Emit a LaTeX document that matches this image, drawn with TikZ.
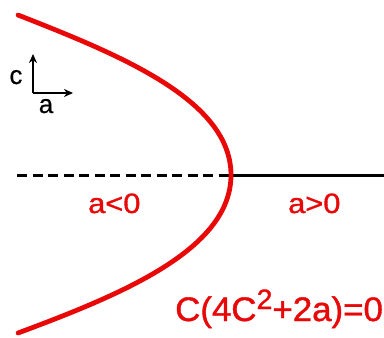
\documentclass[tikz,border=0pt]{standalone}
\usepackage{fontspec}
\setmainfont{Liberation Sans}
\newfontfamily\heavysans[FakeBold=1.2]{Liberation Sans}
\newfontfamily\midsans[FakeBold=0.6]{Liberation Sans}
\usetikzlibrary{arrows.meta}
\definecolor{curvered}{RGB}{232,8,8}
\begin{document}
\begin{tikzpicture}[x=1pt,y=-1pt,
  redlabel/.style={text=curvered,inner sep=0pt,anchor=base west,font=\heavysans\fontsize{28}{28}\selectfont},
  axislabel/.style={inner sep=0pt,font=\midsans\fontsize{26}{26}\selectfont},
  axisline/.style={line width=3pt},
  axisarrow/.style={line width=2.4pt,-{Stealth[length=9pt,width=8pt]}},
  curve/.style={curvered,line width=4.8pt,line cap=round}]
\useasboundingbox (0,0) rectangle (384,338);
% horizontal line
\coordinate (L) at (17,175);
\coordinate (V) at (231,175);
\coordinate (R) at (384,175);
\draw[axisline,dash pattern=on 10pt off 5.5pt] (L) -- (V);
\draw[axisline] (V) -- (R);
% curve
\coordinate (Top) at (18,15);
\coordinate (Bot) at (18,333);
\draw[curve] (Top) .. controls (120,55) and (231,100) .. (V)
                   .. controls (231,250) and (120,295) .. (Bot);
% small axes
\coordinate (O) at (33,93);
\coordinate (Ctip) at (33,54);
\coordinate (Atip) at (73,93);
\draw[axisarrow] (O) -- (Ctip);
\draw[axisarrow] (O) -- (Atip);
\node[axislabel,anchor=base] (cl) at (16,84) {c};
\node[axislabel,anchor=base] (al) at (46,113) {a};
% labels
\node[redlabel] (neg) at (88,213) {\scalebox{1.1}[1]{a<0}};
\node[redlabel] (pos) at (288,213) {\scalebox{1.1}[1]{a>0}};
\node[redlabel,font=\heavysans\fontsize{34}{34}\selectfont] (eq) at (175,321) {\scalebox{1.025}[1]{C(4C\raisebox{12pt}{\fontsize{28}{28}\selectfont 2}+2a)=0}};
\end{tikzpicture}
\end{document}
